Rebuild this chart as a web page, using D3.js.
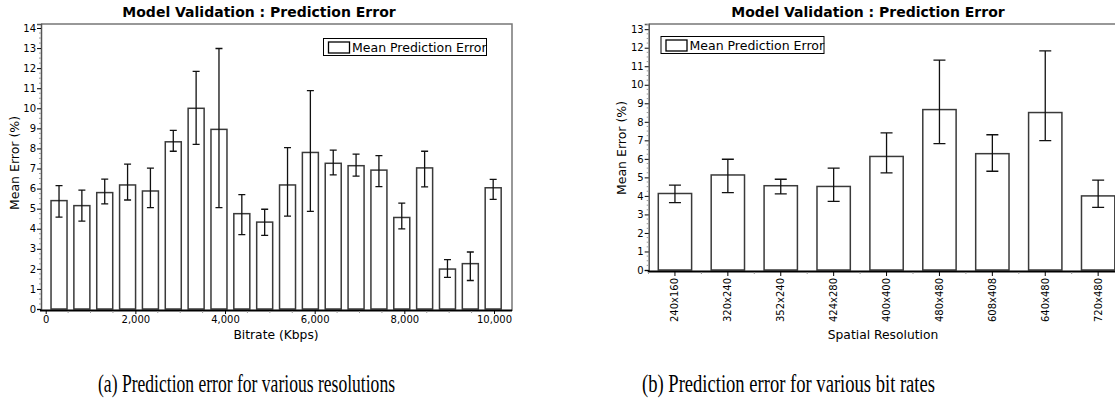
<!DOCTYPE html>
<html>
<head>
<meta charset="utf-8">
<script src="https://cdn.jsdelivr.net/npm/d3@7"></script>
<style>
  body { margin: 0; background: #fff; }
  text { font-family: "DejaVu Sans", Verdana, sans-serif; fill: #000; }
  .caption { font-family: "Liberation Serif", "Times New Roman", serif; }
</style>
</head>
<body>
<div id="chart"></div>
<script>
// left chart: error per bitrate (Kbps)
const bitrates = [500, 1000, 1500, 2000, 2500, 3000, 3500, 4000, 4500, 5000,
                  5500, 6000, 6500, 7000, 7500, 8000, 8500, 9000, 9500, 10000];
const bitrateMean = [5.4, 5.15, 5.8, 6.18, 5.88, 8.33, 10.0, 8.95, 4.75, 4.33,
                     6.18, 7.8, 7.26, 7.14, 6.92, 4.56, 7.03, 1.99, 2.26, 6.04];
const bitrateHigh = [6.15, 5.92, 6.47, 7.22, 7.02, 8.9, 11.84, 12.98, 5.7, 4.97,
                     8.04, 10.88, 7.92, 7.72, 7.64, 5.28, 7.86, 2.46, 2.84, 6.46];
const bitrateLow  = [4.58, 4.38, 5.24, 5.43, 5.05, 7.86, 8.2, 5.05, 3.71, 3.67,
                     4.63, 4.86, 6.68, 6.62, 6.1, 3.99, 6.08, 1.58, 1.42, 5.46];
const bitrateTicks = [0, 2000, 4000, 6000, 8000, 10000];

// right chart: error per spatial resolution
const resolutions = ["240x160", "320x240", "352x240", "424x280", "400x400",
                     "480x480", "608x408", "640x480", "720x480"];
const resMean = [4.13, 5.13, 4.55, 4.51, 6.13, 8.66, 6.28, 8.5, 4.0];
const resHigh = [4.58, 5.98, 4.9, 5.5, 7.4, 11.33, 7.3, 11.83, 4.85];
const resLow  = [3.64, 4.18, 4.11, 3.7, 5.24, 6.82, 5.33, 6.98, 3.38];

const W = 1115, H = 408;
const svg = d3.select("#chart").append("svg")
    .attr("width", W).attr("height", H)
    .attr("viewBox", [0, 0, W, H]);

function drawPanel(o) {
  const g = svg.append("g");
  const y = d3.scaleLinear().domain([0, o.yMax]).range([o.bottom, o.top]);
  const band = d3.scaleBand().domain(o.cats).range(o.bandRange)
      .paddingInner(o.pad).paddingOuter(o.pad / 2);

  // frame (top + right)
  g.append("path")
    .attr("d", `M${o.left},${o.top}H${o.right}V${o.bottom + 2}`)
    .attr("fill", "none").attr("stroke", "#777").attr("stroke-width", 1.5);

  // y axis with minor ticks
  const yAxis = g.append("g").attr("transform", `translate(${o.left},0)`)
    .call(d3.axisLeft(y).tickValues(d3.range(0, Math.floor(o.yMax) + 1)).tickSize(4).tickPadding(1));
  yAxis.selectAll("text").style("font-size", "10px");
  yAxis.select(".domain").attr("stroke", "#555").attr("stroke-width", 1.5);
  g.append("g").selectAll("line")
    .data(d3.range(0, o.yMax, 0.25).filter(v => v % 1 !== 0))
    .join("line")
      .attr("x1", o.left - 2).attr("x2", o.left)
      .attr("y1", d => y(d)).attr("y2", d => y(d))
      .attr("stroke", "#999");

  // bars
  g.append("g").selectAll("rect")
    .data(o.cats)
    .join("rect")
      .attr("x", d => band(d))
      .attr("y", (d, i) => y(o.mean[i]))
      .attr("width", band.bandwidth())
      .attr("height", (d, i) => y(0) - y(o.mean[i]))
      .attr("fill", "#fff").attr("stroke", "#3a3a3a").attr("stroke-width", 1.5);

  // error bars
  const cap = o.cap;
  const eb = g.append("g").attr("stroke", "#111").attr("stroke-width", 1.3).attr("fill", "none");
  eb.selectAll("path")
    .data(o.cats)
    .join("path")
      .attr("d", (d, i) => {
        const cx = band(d) + band.bandwidth() / 2;
        const hi = y(o.high[i]), lo = y(o.low[i]);
        return `M${cx - cap / 2},${hi}H${cx + cap / 2}M${cx},${hi}V${lo}M${cx - cap / 2},${lo}H${cx + cap / 2}`;
      });

  // bottom axis line
  g.append("line")
    .attr("x1", o.left - 1).attr("x2", o.right)
    .attr("y1", o.bottom + 1.5).attr("y2", o.bottom + 1.5)
    .attr("stroke", "#000").attr("stroke-width", 2);

  // title
  g.append("text")
    .attr("x", o.titleX).attr("y", 17)
    .attr("text-anchor", "middle")
    .style("font-size", "14px").style("font-weight", "bold")
    .text("Model Validation : Prediction Error");

  // y label
  g.append("text")
    .attr("transform", `translate(${o.yLabelX},${o.yLabelY}) rotate(-90)`)
    .attr("text-anchor", "middle")
    .style("font-size", "12.5px")
    .text("Mean Error (%)");

  // legend
  const lg = g.append("g").attr("transform", `translate(${o.legend[0]},${o.legend[1]})`);
  lg.append("rect").attr("width", o.legend[2]).attr("height", 17)
    .attr("fill", "#fff").attr("stroke", "#000").attr("stroke-width", 1);
  lg.append("rect").attr("x", 5).attr("y", 3.5).attr("width", 21).attr("height", 11)
    .attr("fill", "#fff").attr("stroke", "#000").attr("stroke-width", 1.3);
  lg.append("text").attr("x", 28.5).attr("y", 13.5).style("font-size", "12.5px")
    .text("Mean Prediction Error");

  return { g, y, band };
}

// ---- left panel (bitrate)
const left = drawPanel({
  cats: bitrates, mean: bitrateMean, high: bitrateHigh, low: bitrateLow,
  left: 41, right: 512, top: 24, bottom: 309, yMax: 14.2,
  bandRange: [47.6, 504.6], pad: 0.3, cap: 7,
  titleX: 259, yLabelX: 18.5, yLabelY: 163,
  legend: [323.5, 38.5, 163]
});
const xLin = d3.scaleLinear().domain([0, 10000]).range([45.7, 494]);
const xAxis = left.g.append("g").attr("transform", `translate(0,${309 + 2})`)
  .call(d3.axisBottom(xLin).tickValues(bitrateTicks).tickFormat(d3.format(",")).tickSize(3).tickPadding(2));
xAxis.select(".domain").remove();
xAxis.selectAll("text").style("font-size", "10px");
left.g.append("g").selectAll("line")
  .data(d3.range(500, 10000, 500).filter(v => v % 2000 !== 0))
  .join("line")
    .attr("x1", d => xLin(d)).attr("x2", d => xLin(d))
    .attr("y1", 311).attr("y2", 313).attr("stroke", "#999");
left.g.append("text").attr("x", 276).attr("y", 339)
  .attr("text-anchor", "middle").style("font-size", "12.3px")
  .text("Bitrate (Kbps)");

// ---- right panel (resolution)
const right = drawPanel({
  cats: resolutions, mean: resMean, high: resHigh, low: resLow,
  left: 648.7, right: 1125, top: 24, bottom: 270, yMax: 13.28,
  bandRange: [648.5, 1124.6], pad: 0.37, cap: 12,
  titleX: 868, yLabelX: 626, yLabelY: 148,
  legend: [661, 36.5, 163]
});
const rb = right.band;
const xr = right.g.append("g").attr("transform", `translate(0,${270 + 2})`)
  .call(d3.axisBottom(rb).tickSize(4).tickPadding(3).tickSizeOuter(0));
xr.select(".domain").remove();
xr.selectAll("text")
  .style("font-size", "10px")
  .attr("text-anchor", "end")
  .attr("transform", "rotate(-90)")
  .attr("x", -6).attr("y", 0).attr("dy", "0.35em");
right.g.append("g").selectAll("line")
  .data(resolutions)
  .join("line")
    .attr("x1", d => rb(d) - rb.step() * rb.paddingInner() / 2)
    .attr("x2", d => rb(d) - rb.step() * rb.paddingInner() / 2)
    .attr("y1", 272).attr("y2", 274).attr("stroke", "#999");
right.g.append("text").attr("x", 883).attr("y", 339)
  .attr("text-anchor", "middle").style("font-size", "12.3px")
  .text("Spatial Resolution");

// ---- captions
svg.append("text").attr("class", "caption")
  .attr("x", 98).attr("y", 392)
  .attr("textLength", 297).attr("lengthAdjust", "spacingAndGlyphs")
  .style("font-size", "25px")
  .text("(a) Prediction error for various resolutions");
svg.append("text").attr("class", "caption")
  .attr("x", 642).attr("y", 392)
  .attr("textLength", 293).attr("lengthAdjust", "spacingAndGlyphs")
  .style("font-size", "25px")
  .text("(b) Prediction error for various bit rates");
</script>
</body>
</html>
